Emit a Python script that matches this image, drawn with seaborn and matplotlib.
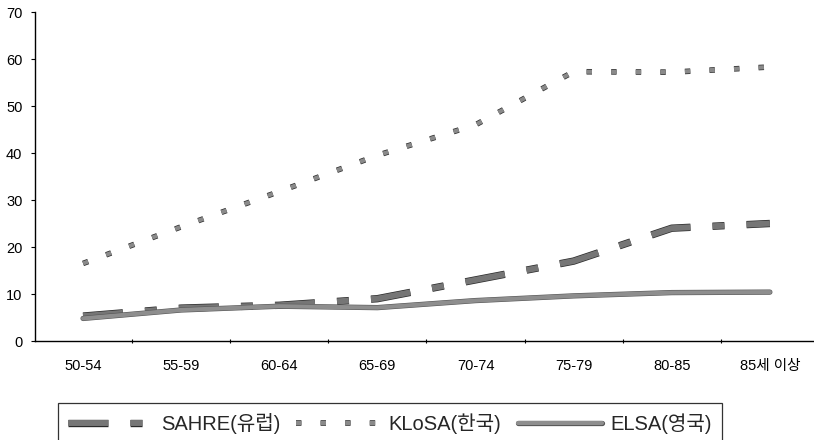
import matplotlib
matplotlib.use("Agg")
import matplotlib.pyplot as plt
import matplotlib.patheffects as pe
import seaborn as sns
import numpy as np

# age groups and the three surveys
ages = ['50-54', '55-59', '60-64', '65-69', '70-74', '75-79', '80-85', '85세 이상']
sahre = [5.3, 7.0, 7.6, 9.0, 13.0, 17.0, 24.0, 25.0]
klosa = [16.5, 24.3, 31.8, 39.5, 46.0, 57.3, 57.2, 58.3]
elsa = [4.8, 6.6, 7.4, 7.1, 8.6, 9.6, 10.3, 10.4]

labels = ['SAHRE(유럽)', 'KLoSA(한국)', 'ELSA(영국)']

sns.set_theme(style='white')
plt.rcParams['font.family'] = ['Liberation Sans', 'Noto Sans CJK KR', 'DejaVu Sans']

fig = plt.figure(figsize=(8.14, 4.4), dpi=100)
ax = fig.add_axes([35 / 814, 1 - 341 / 440, (814 - 35) / 814, (341 - 12) / 440])

x = np.arange(len(ages))

sns.lineplot(x=x, y=sahre, ax=ax, color='#767676', linewidth=4.3, label=labels[0])
sns.lineplot(x=x, y=klosa, ax=ax, color='#8a8a8a', linewidth=3.0, label=labels[1])
sns.lineplot(x=x, y=elsa, ax=ax, color='#8e8e8e', linewidth=3.0, label=labels[2])

l_sahre, l_klosa, l_elsa = ax.lines[:3]
l_sahre.set_dashes((6.7, 3.7, 2.0, 3.7))
l_sahre.set_dash_capstyle('butt')
l_klosa.set_dashes((1.3, 4.6))
l_klosa.set_dash_capstyle('butt')
outline = '#2a2a2a'
l_sahre.set_path_effects([pe.Stroke(linewidth=5.3, foreground=outline), pe.Normal()])
l_klosa.set_path_effects([pe.Stroke(linewidth=4.0, foreground=outline), pe.Normal()])
l_elsa.set_path_effects([pe.Stroke(linewidth=3.8, foreground='#555555'), pe.Normal()])

ax.set_xlim(-0.49, 7.45)
ax.set_ylim(0, 70)
ax.set_yticks(range(0, 71, 10))
ax.set_xticks(x)
ax.set_xticklabels(ages)
ax.set_xticks(x[:-1] + 0.5, minor=True)

for side in ['top', 'right']:
    ax.spines[side].set_visible(False)
for side in ['left', 'bottom']:
    ax.spines[side].set_color('black')
    ax.spines[side].set_linewidth(1.0)

ax.tick_params(axis='x', which='major', length=0, pad=13, labelsize=10.5, colors='black')
ax.tick_params(axis='x', which='minor', length=3, width=0.8, direction='inout', bottom=True, color='black')
ax.tick_params(axis='y', length=3, width=0.8, direction='out', left=True, pad=6, labelsize=10.5, colors='black')
ax.set_xlabel('')
ax.set_ylabel('')

ax.get_legend().remove()
leg = fig.legend(handles=[l_sahre, l_klosa, l_elsa], labels=labels,
                 loc='upper left', bbox_to_anchor=(58 / 814, 1 - 403 / 440),
                 ncol=3, frameon=True, fancybox=False, fontsize=14.5,
                 handlelength=4.2, handletextpad=0.4, columnspacing=0.8,
                 borderaxespad=0, borderpad=0.5)
leg.get_frame().set_edgecolor('black')
leg.get_frame().set_linewidth(0.9)

fig.savefig('out.png', dpi=100)
